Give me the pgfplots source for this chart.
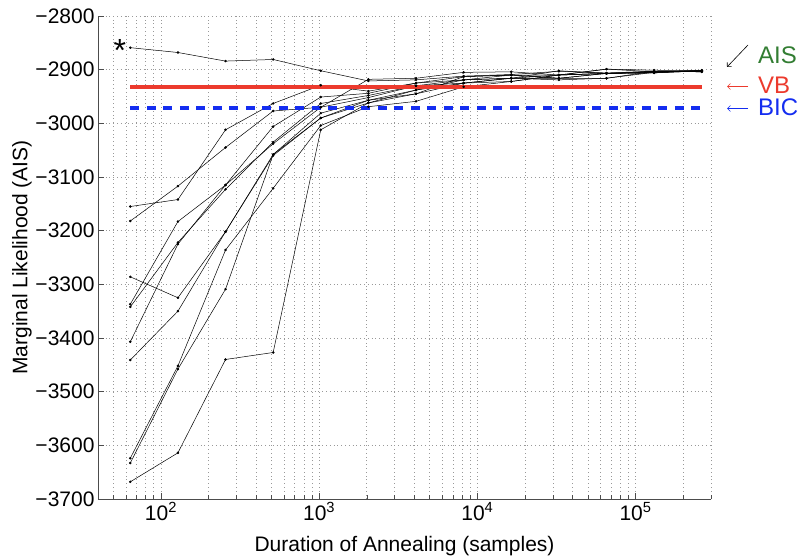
\documentclass[border=0pt]{standalone}
\usepackage{pgfplots}
\pgfplotsset{compat=1.18}
\usepackage{fontspec}
\setmainfont{Liberation Sans}
\usetikzlibrary{arrows.meta}
\definecolor{aisgreen}{RGB}{50,125,50}
\definecolor{vbred}{RGB}{236,58,45}
\definecolor{bicblue}{RGB}{20,45,240}
\pgfplotsset{ais/.style={black, solid, line width=0.5pt, mark=*, mark size=1pt, mark options={solid, fill=black}}}
\begin{document}
\begin{tikzpicture}
\useasboundingbox (-98pt,-60pt) rectangle (701pt,499pt);
\begin{axis}[
    scale only axis,
    width=613pt, height=483pt,
    xmode=log, log basis x=10,
    xmin=40, xmax=300000,
    ymin=-3700, ymax=-2800,
    axis x line*=bottom, axis y line*=left,
    axis line style={black!70, line width=0.6pt},
    tick align=inside,
    major tick length=6pt, minor tick length=4pt,
    tick style={black!70, line width=0.5pt},
    xtick={100,1000,10000,100000},
    xticklabels={10\textsuperscript{2},10\textsuperscript{3},10\textsuperscript{4},10\textsuperscript{5}},
    minor xtick={40,50,60,70,80,90,200,300,400,500,600,700,800,900,
        2000,3000,4000,5000,6000,7000,8000,9000,
        20000,30000,40000,50000,60000,70000,80000,90000,200000,300000},
    ytick={-3700,-3600,-3500,-3400,-3300,-3200,-3100,-3000,-2900,-2800},
    yticklabels={−3700,−3600,−3500,−3400,−3300,−3200,−3100,−3000,−2900,−2800},
    grid=both,
    major grid style={black!40, line width=0.6pt, dash pattern=on 0.6pt off 3.2pt},
    minor grid style={black!40, line width=0.6pt, dash pattern=on 0.6pt off 3.2pt},
    ticklabel style={font=\fontsize{21}{24}\selectfont},
    label style={font=\fontsize{21}{24}\selectfont},
    xlabel={Duration of Annealing (samples)},
    ylabel={Marginal Likelihood (AIS)},
    xlabel style={at={(axis description cs:0.5,-0.097)}, anchor=center},
    ylabel style={at={(axis description cs:-0.124,0.5)}, anchor=center},
    clip=false,
]
% AIS runs
\addplot[ais] coordinates {(64,-2859) (128,-2868) (256,-2884) (512,-2881) (1024,-2902) (2048,-2921) (4096,-2919) (8192,-2912) (16384,-2909) (32768,-2903) (65536,-2906) (131072,-2903) (262144,-2902)};
\addplot[ais] coordinates {(64,-3155) (128,-3142) (256,-3012) (512,-2963) (1024,-2929) (2048,-2940) (4096,-2925) (8192,-2913) (16384,-2910) (32768,-2910) (65536,-2907) (131072,-2904) (262144,-2903)};
\addplot[ais] coordinates {(64,-3182) (128,-3117) (256,-3045) (512,-2977) (1024,-2970) (2048,-2918) (4096,-2916) (8192,-2905) (16384,-2904) (32768,-2910) (65536,-2899) (131072,-2901) (262144,-2902)};
\addplot[ais] coordinates {(64,-3337) (128,-3183) (256,-3115) (512,-3006) (1024,-2951) (2048,-2944) (4096,-2925) (8192,-2919) (16384,-2916) (32768,-2910) (65536,-2907) (131072,-2905) (262144,-2903)};
\addplot[ais] coordinates {(64,-3342) (128,-3222) (256,-3123) (512,-3035) (1024,-2963) (2048,-2948) (4096,-2930) (8192,-2919) (16384,-2910) (32768,-2916) (65536,-2907) (131072,-2903) (262144,-2904)};
\addplot[ais] coordinates {(64,-3407) (128,-3225) (256,-3115) (512,-3038) (1024,-2970) (2048,-2952) (4096,-2930) (8192,-2925) (16384,-2916) (32768,-2902) (65536,-2907) (131072,-2906) (262144,-2902)};
\addplot[ais] coordinates {(64,-3286) (128,-3325) (256,-3202) (512,-3058) (1024,-2981) (2048,-2957) (4096,-2938) (8192,-2919) (16384,-2916) (32768,-2916) (65536,-2916) (131072,-2905) (262144,-2901)};
\addplot[ais] coordinates {(64,-3441) (128,-3350) (256,-3202) (512,-3060) (1024,-2990) (2048,-2962) (4096,-2938) (8192,-2925) (16384,-2922) (32768,-2910) (65536,-2899) (131072,-2904) (262144,-2903)};
\addplot[ais] coordinates {(64,-3624) (128,-3452) (256,-3236) (512,-3121) (1024,-3004) (2048,-2969) (4096,-2959) (8192,-2932) (16384,-2922) (32768,-2910) (65536,-2907) (131072,-2906) (262144,-2902)};
\addplot[ais] coordinates {(64,-3633) (128,-3458) (256,-3309) (512,-3058) (1024,-2990) (2048,-2957) (4096,-2945) (8192,-2925) (16384,-2916) (32768,-2919) (65536,-2916) (131072,-2903) (262144,-2904)};
\addplot[ais] coordinates {(64,-3668) (128,-3614) (256,-3440) (512,-3427) (1024,-3012) (2048,-2962) (4096,-2945) (8192,-2913) (16384,-2910) (32768,-2916) (65536,-2907) (131072,-2905) (262144,-2902)};
% VB and BIC
\addplot[vbred, line width=3.5pt, mark=none] coordinates {(64,-2932) (262144,-2932)};
\addplot[bicblue, line width=3.5pt, mark=none, dash pattern=on 9pt off 7.5pt] coordinates {(64,-2971) (262144,-2971)};
\node[font=\fontsize{32}{32}\selectfont] at (axis cs:55,-2865) {*};
\end{axis}
% labels on the right
\draw[black, line width=0.6pt, -{Straight Barb[length=3pt,width=6pt]}] (650pt,454pt) -- (629pt,432pt);
\node[anchor=west, text=aisgreen, font=\fontsize{24}{24}\selectfont, inner sep=0pt] at (660pt,444pt) {AIS};
\draw[vbred, line width=0.6pt, -{Straight Barb[length=3pt,width=6pt]}] (650pt,412.5pt) -- (629pt,412.5pt);
\node[anchor=west, text=vbred, font=\fontsize{24}{24}\selectfont, inner sep=0pt] at (660pt,414pt) {VB};
\draw[bicblue, line width=0.6pt, -{Straight Barb[length=3pt,width=6pt]}] (650pt,390.5pt) -- (629pt,390.5pt);
\node[anchor=west, text=bicblue, font=\fontsize{24}{24}\selectfont, inner sep=0pt] at (660pt,392pt) {BIC};
\end{tikzpicture}
\end{document}
